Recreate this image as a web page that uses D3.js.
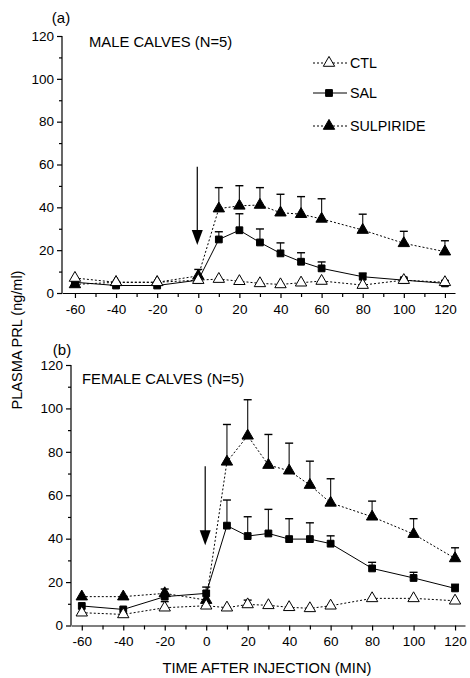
<!DOCTYPE html>
<html>
<head>
<meta charset="utf-8">
<script src="https://cdn.jsdelivr.net/npm/d3@7"></script>
<style>
body { margin: 0; background: white; }
text { font-family: "Liberation Sans", Arial, sans-serif; fill: black; }
</style>
</head>
<body>
<div id="canvas"></div>
<script>
// sampling times (min)
var times = [-60, -40, -20, 0, 10, 20, 30, 40, 50, 60, 80, 100, 120];
var xTicks = [-60, -40, -20, 0, 20, 40, 60, 80, 100, 120];
var yTicks = [0, 20, 40, 60, 80, 100, 120];

// male calves
var ctlM = [7, 5, 5, 6, 6.5, 5.5, 4.5, 4, 4.8, 5.6, 3.7, 6, 5];
var salM = [5, 3.5, 3.5, 6, 25, 29.3, 23.6, 18.5, 14.6, 11.5, 7.6, 6, 4.5];
var salMErr = [0, 0, 0, 0, 3.6, 7.7, 6.3, 4.9, 4.2, 3, 1.7, 0.5, 0];
var sulM = [4, 5, 5, 8, 39.4, 40.7, 41.1, 37.5, 36.8, 34.6, 29.4, 23.2, 19.3];
var sulMErr = [0, 0, 0, 3, 9.8, 9.4, 8.1, 8.6, 8.2, 9.4, 7.4, 5.6, 5.1];

// female calves
var ctlF = [5.9, 5.1, 8.2, 9.1, 8.2, 9.7, 9.3, 8.4, 7.9, 9.1, 12.5, 12.5, 11.4];
var ctlFErr = [0, 0, 2.8, 0, 0, 2, 0, 0, 0, 0, 0, 0, 0];
var salF = [9, 7.4, 13.3, 14.8, 46, 41.2, 42.4, 39.8, 39.8, 37.7, 26.3, 21.9, 17.1];
var salFErr = [0, 0, 0, 2.9, 11.8, 8.9, 11.1, 9.4, 7.5, 3.6, 2.8, 2.6, 1.9];
var sulF = [13.3, 13.3, 14.8, 11.7, 75.4, 87.4, 73.9, 71.3, 64.7, 56.5, 50.1, 42.1, 30.9];
var sulFErr = [0, 0, 2, 0, 17.2, 16.6, 14.1, 12.7, 11, 11.1, 7.2, 7.1, 4.9];

var width = 470, height = 678;
var svg = d3.select("#canvas").append("svg").attr("width", width).attr("height", height);

var triSize = 56, sqSize = 46;

function drawPanel(p) {
    var x = d3.scaleLinear().domain(p.xDomain).range([p.left, p.right]);
    var y = d3.scaleLinear().domain([0, 120]).range([p.bottom, p.top]);
    var g = svg.append("g");

    // minor ticks
    var xMinor = d3.range(-50, 121, 20);
    var yMinor = d3.range(10, 120, 20);
    g.append("g").attr("transform", "translate(0," + p.bottom + ")")
        .call(d3.axisBottom(x).tickValues(xMinor).tickSize(4).tickFormat(""))
        .call(function(a) { a.select(".domain").remove(); });
    g.append("g").attr("transform", "translate(" + p.left + ",0)")
        .call(d3.axisLeft(y).tickValues(yMinor).tickSize(3).tickFormat(""))
        .call(function(a) { a.select(".domain").remove(); });

    var fmt = function(d) { return String(d); };  // plain hyphen, not unicode minus
    g.append("g").attr("transform", "translate(0," + p.bottom + ")")
        .call(d3.axisBottom(x).tickValues(xTicks).tickSize(5).tickPadding(6).tickSizeOuter(0).tickFormat(fmt));
    var ya = g.append("g").attr("transform", "translate(" + p.left + ",0)")
        .call(d3.axisLeft(y).tickValues(yTicks).tickSize(5).tickPadding(3).tickSizeOuter(0).tickFormat(fmt));
    ya.select(".domain").attr("d", "M0," + y(0) + "V" + y(120));
    g.selectAll(".tick text").style("font-size", "13.5px").style("font-family", "Liberation Sans, Arial");
    g.selectAll(".domain, .tick line").attr("stroke", "black").attr("stroke-width", 1.2);

    // injection arrow
    var ax = x(0) - 1;
    g.append("line").attr("x1", ax).attr("x2", ax)
        .attr("y1", y(p.arrow[0])).attr("y2", y(p.arrow[1]) - 12)
        .attr("stroke", "black").attr("stroke-width", 1.2);
    g.append("path")
        .attr("d", "M" + (ax - 5.5) + "," + (y(p.arrow[1]) - 15) + "L" + (ax + 5.5) + "," + (y(p.arrow[1]) - 15) + "L" + ax + "," + y(p.arrow[1]) + "Z")
        .attr("fill", "black");

    var line = d3.line().x(function(d) { return x(d[0]); }).y(function(d) { return y(d[1]); });

    p.series.forEach(function(s) {
        var pts = times.map(function(t, i) { return [t, s.values[i], s.err ? s.err[i] : 0]; });
        // error bars (upper only)
        pts.filter(function(d) { return d[2] > 0; }).forEach(function(d) {
            g.append("line").attr("x1", x(d[0])).attr("x2", x(d[0]))
                .attr("y1", y(d[1])).attr("y2", y(d[1] + d[2]))
                .attr("stroke", "#222").attr("stroke-width", 1.2);
            g.append("line").attr("x1", x(d[0]) - 4).attr("x2", x(d[0]) + 4)
                .attr("y1", y(d[1] + d[2])).attr("y2", y(d[1] + d[2]))
                .attr("stroke", "black").attr("stroke-width", 1.4);
        });
        g.append("path").datum(pts).attr("d", line)
            .attr("fill", "none").attr("stroke", "black").attr("stroke-width", 1)
            .attr("stroke-dasharray", s.dash);
    });
    p.series.forEach(function(s) {
        var sym = d3.symbol().type(s.shape == "square" ? d3.symbolSquare : d3.symbolTriangle)
            .size(s.shape == "square" ? sqSize : triSize);
        g.selectAll(null).data(times.map(function(t, i) { return [t, s.values[i]]; }))
            .enter().append("path")
            .attr("d", sym)
            .attr("transform", function(d) { return "translate(" + x(d[0]) + "," + y(d[1]) + ")"; })
            .attr("fill", s.fill).attr("stroke", "black").attr("stroke-width", 1);
    });
    return { x: x, y: y };
}

var dotted = "2,2";
drawPanel({
    xDomain: [-66.3, 124.9], left: 62, right: 455, top: 36, bottom: 293,
    arrow: [59, 22.4],
    series: [
        { values: sulM, err: sulMErr, shape: "tri", fill: "black", dash: dotted },
        { values: salM, err: salMErr, shape: "square", fill: "black", dash: null },
        { values: ctlM, err: null, shape: "tri", fill: "white", dash: dotted }
    ]
});
drawPanel({
    xDomain: [-65.2, 124.8], left: 71, right: 465, top: 365, bottom: 625.5,
    arrow: [73.4, 37],
    series: [
        { values: sulF, err: sulFErr, shape: "tri", fill: "black", dash: dotted },
        { values: salF, err: salFErr, shape: "square", fill: "black", dash: null },
        { values: ctlF, err: ctlFErr, shape: "tri", fill: "white", dash: dotted }
    ]
});

// panel labels
svg.append("text").attr("x", 61).attr("y", 23).attr("text-anchor", "middle").style("font-size", "15px").text("(a)");
svg.append("text").attr("x", 89).attr("y", 47).style("font-size", "14.8px").text("MALE CALVES (N=5)");
svg.append("text").attr("x", 62).attr("y", 355).attr("text-anchor", "middle").style("font-size", "15px").text("(b)");
svg.append("text").attr("x", 82).attr("y", 384).style("font-size", "14.8px").text("FEMALE CALVES (N=5)");

// legend
var legend = [
    { name: "CTL", fill: "white", shape: "tri", dash: dotted },
    { name: "SAL", fill: "black", shape: "square", dash: null },
    { name: "SULPIRIDE", fill: "black", shape: "tri", dash: dotted }
];
var legendY = [63, 93, 126];
legend.forEach(function(l, i) {
    var ly = legendY[i];
    svg.append("line").attr("x1", 313).attr("x2", 347).attr("y1", ly).attr("y2", ly)
        .attr("stroke", "black").attr("stroke-width", 1).attr("stroke-dasharray", l.dash);
    svg.append("path")
        .attr("d", d3.symbol().type(l.shape == "square" ? d3.symbolSquare : d3.symbolTriangle).size(l.shape == "square" ? sqSize : triSize))
        .attr("transform", "translate(329," + ly + ")")
        .attr("fill", l.fill).attr("stroke", "black");
    svg.append("text").attr("x", 350).attr("y", ly + 5).style("font-size", "14.3px").text(l.name);
});

// axis titles
svg.append("text").attr("transform", "translate(22,340) rotate(-90)").attr("text-anchor", "middle")
    .style("font-size", "14.5px").text("PLASMA PRL (ng/ml)");
svg.append("text").attr("x", 267).attr("y", 673).attr("text-anchor", "middle")
    .style("font-size", "14.7px").text("TIME AFTER INJECTION (MIN)");
</script>
</body>
</html>
